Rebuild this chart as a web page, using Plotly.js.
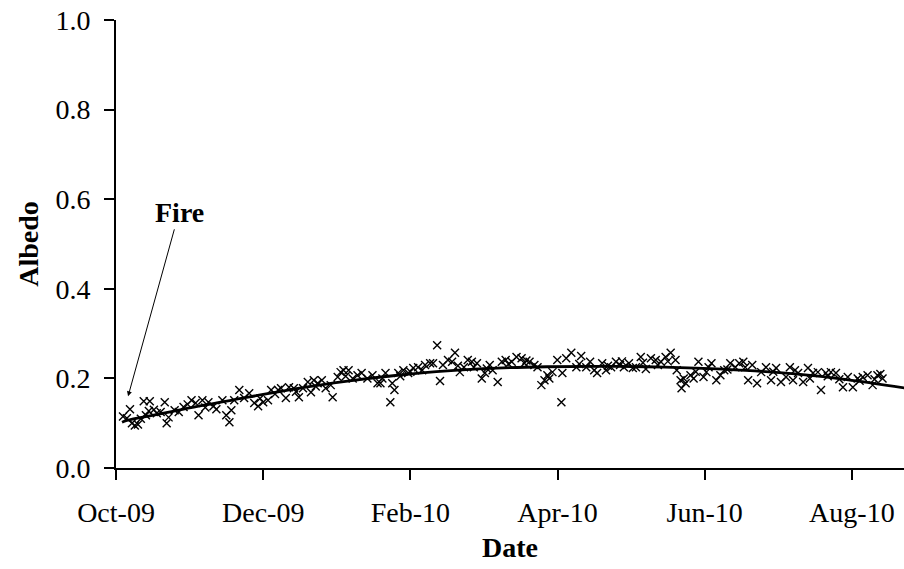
<!DOCTYPE html>
<html>
<head>
<meta charset="utf-8">
<script src="https://cdn.plot.ly/plotly-3.0.1.min.js"></script>
<style>html,body{margin:0;padding:0;background:#fff;}#chart{width:904px;height:569px;}</style>
</head>
<body>
<div id="chart"></div>
<script>
// Day offsets are counted from 15 Oct 2009
const startDate = "2009-10-15";

const obsDays = [2.9,4.5,5.8,6.6,7.8,9.1,10.3,11.5,12.4,13.6,14,15.7,16.9,18.5,20.2,21,21.8,24.3,26,28,29.7,31.3,33,34.2,35.8,37,38.3,40.4,41.6,44.1,45.7,47,47.8,49,51.1,53.1,
55.2,57.3,58.9,59.7,61,63,64.3,65.9,67.2,68.4,70.4,71.7,73.7,74.6,75.8,77.5,79.5,80.8,82,82.8,83.6,85.3,86.9,89,89.8,91.9,93.1,94.3,95.2,96.4,98.1,100.1,101.8,104.2,106.3,108.4,
109.6,110.4,111.7,113.7,114.5,115.4,117,117.8,119.1,121.1,122,123.2,125.2,126.9,128.1,130.2,131.4,133.1,134.3,135.5,137.6,139.3,140.5,141.7,142.5,144.2,145.8,147.5,148.3,149.6,151.6,152.9,153.7,154.9,156.1,158.2,159.9,161.5,
162.7,164,166,168.1,169.3,170.1,171.4,173.4,174.7,176.3,177.6,178.8,179.6,180.9,182.9,184.6,185,186.6,188.7,190.8,192,192.8,194.9,196.5,198.2,199.4,201.5,203.1,203.9,205.2,207.2,208.9,209.7,210.5,212.6,214.2,
215.5,217.5,218.4,219.6,221.7,223.7,224.6,225.8,227.8,228.7,229.9,231.9,232.4,234,234.4,235.3,236.1,238.1,239.4,240.3,241.4,243.5,244.7,245.6,246.8,248.8,250.5,252.1,253.4,254.6,256.7,258.3,260,260.8,262,263.7,265.7,267.4,
269.4,271.5,272.4,273.6,275.6,277.7,279.3,280.6,281.4,282.7,284.8,286.8,287.6,288.9,290.9,292.2,294.2,295,296.3,298.4,299.8,301.3,303.3,305.4,307.4,308.2,309.5,311.5,313.6,314.4,315.6,316.8,317.7];

const obsAlbedo = [0.115,0.111,0.131,0.100,0.095,0.097,0.110,0.149,0.118,0.127,0.149,0.130,0.122,0.125,0.147,0.100,0.113,0.129,0.125,0.136,0.142,0.151,0.145,0.118,0.151,0.135,0.147,0.138,0.131,0.151,0.118,0.102,0.129,0.151,0.174,0.156,
0.167,0.145,0.138,0.155,0.147,0.151,0.174,0.165,0.174,0.178,0.156,0.180,0.178,0.170,0.158,0.178,0.192,0.169,0.196,0.182,0.189,0.196,0.178,0.185,0.158,0.203,0.214,0.218,0.205,0.218,0.200,0.207,0.212,0.200,0.207,0.189,
0.189,0.200,0.212,0.147,0.189,0.174,0.212,0.205,0.218,0.212,0.215,0.223,0.225,0.218,0.230,0.234,0.234,0.274,0.194,0.230,0.241,0.237,0.257,0.228,0.214,0.225,0.241,0.237,0.225,0.234,0.200,0.212,0.222,0.230,0.218,0.192,0.237,0.241,
0.232,0.237,0.248,0.245,0.234,0.240,0.237,0.230,0.225,0.185,0.196,0.207,0.200,0.214,0.241,0.147,0.212,0.245,0.257,0.225,0.232,0.250,0.225,0.237,0.218,0.212,0.234,0.218,0.228,0.225,0.237,0.230,0.238,0.225,0.234,0.223,
0.225,0.248,0.235,0.221,0.245,0.241,0.230,0.237,0.248,0.238,0.257,0.241,0.218,0.196,0.178,0.200,0.189,0.207,0.200,0.215,0.237,0.203,0.214,0.225,0.234,0.196,0.207,0.218,0.220,0.234,0.225,0.234,0.237,0.225,0.196,0.230,0.189,0.214,
0.225,0.196,0.215,0.223,0.192,0.203,0.225,0.196,0.218,0.212,0.192,0.223,0.200,0.212,0.214,0.174,0.212,0.205,0.214,0.212,0.198,0.180,0.203,0.180,0.200,0.195,0.203,0.207,0.185,0.198,0.207,0.210,0.200];

const trendDays = [2.5,4.5,17.7,34.2,54.8,75.4,96,116.7,137.3,157.9,178.5,199.1,219.7,240.3,260.9,281.5,302.1,330];
const trendAlbedo = [0.102,0.106,0.120,0.138,0.158,0.178,0.194,0.207,0.217,0.223,0.226,0.227,0.226,0.223,0.218,0.210,0.198,0.176];

const tickDays = [0,61,122,183,244,305];
const tickLabels = ["Oct-09","Dec-09","Feb-10","Apr-10","Jun-10","Aug-10"];
const rangeDays = [0,326.6];

const fireDay = 5;
const fireAlbedo = 0.16;

function toDate(d){
  const base = Date.parse(startDate + "T00:00:00Z");
  return new Date(base + d*86400000).toISOString().replace("T"," ").replace("Z","");
}

const font = "Liberation Serif, Times New Roman, serif";
const fs = 28;

const traces = [
  {
    x: obsDays.map(toDate), y: obsAlbedo, type: "scatter", mode: "markers",
    marker: {symbol: "x-thin-open", size: 8, color: "#000", line: {color: "#000", width: 1.4}},
    hoverinfo: "x+y"
  },
  {
    x: trendDays.map(toDate), y: trendAlbedo, type: "scatter", mode: "lines",
    line: {color: "#000", width: 2.8, shape: "spline"},
    hoverinfo: "skip"
  }
];

const layout = {
  width: 904, height: 569,
  margin: {l: 116, r: 0, t: 20, b: 101, pad: 0},
  paper_bgcolor: "#fff", plot_bgcolor: "#fff",
  showlegend: false,
  font: {family: font, size: fs, color: "#000"},
  xaxis: {
    type: "date",
    range: rangeDays.map(toDate),
    tickvals: tickDays.map(toDate),
    ticktext: tickLabels,
    ticks: "outside", ticklen: 10, tickwidth: 2, tickcolor: "#000",
    ticklabelstandoff: 8,
    showline: true, linecolor: "#000", linewidth: 2,
    showgrid: false, zeroline: false,
    tickfont: {family: font, size: fs, color: "#000"},
    title: {text: "<b>Date</b>", font: {family: font, size: fs, color: "#000"}, standoff: 11}
  },
  yaxis: {
    range: [0, 1], tickvals: [0,0.2,0.4,0.6,0.8,1.0],
    tickformat: ".1f",
    ticks: "outside", ticklen: 10, tickwidth: 2, tickcolor: "#000",
    ticklabelstandoff: 8,
    showline: true, linecolor: "#000", linewidth: 2,
    showgrid: false, zeroline: false,
    tickfont: {family: font, size: fs, color: "#000"},
    title: {text: "<b>Albedo</b>", font: {family: font, size: fs, color: "#000"}, standoff: 9}
  },
  annotations: [{
    x: toDate(fireDay), y: fireAlbedo, xref: "x", yref: "y",
    text: "<b>Fire</b>", showarrow: true,
    ax: 51, ay: -184, axref: "pixel", ayref: "pixel",
    arrowhead: 2, arrowsize: 1, arrowwidth: 1, arrowcolor: "#000", standoff: 0,
    font: {family: font, size: fs, color: "#000"}
  }]
};

Plotly.newPlot("chart", traces, layout, {displayModeBar: false, staticPlot: true});
</script>
</body>
</html>
